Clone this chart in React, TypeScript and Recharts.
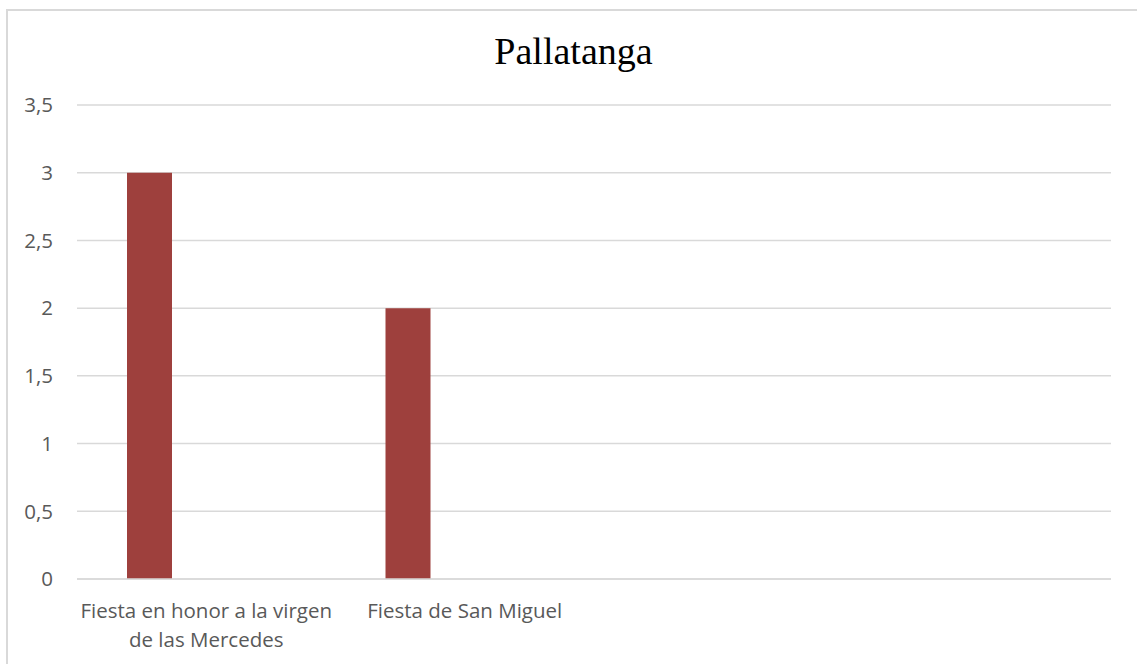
import { Bar, BarChart, CartesianGrid, XAxis, YAxis } from "recharts";

const title = "Pallatanga";
const categories = ["Fiesta en honor a la virgen de las Mercedes", "Fiesta de San Miguel", "", ""];
const serie1 = [3, 2, null, null];
const serie2 = [null, null, null, null];
const serie3 = [null, null, null, null];
const yTicks = [0, 0.5, 1, 1.5, 2, 2.5, 3, 3.5];

const data = categories.map((name, i) => ({
  name,
  serie1: serie1[i],
  serie2: serie2[i],
  serie3: serie3[i],
}));

const FONT = "'Open Sans', sans-serif";
const LABEL = "#595959";
const GRID = "#d9d9d9";
const BAR = "#9E403D";

const fmt = (v: number) => String(v).replace(".", ",");

// word wrap by character count, labels are short enough for this
function wrap(label: string, maxChars = 28) {
  const lines: string[] = [];
  let cur = "";
  for (const w of label.split(" ")) {
    const next = cur ? cur + " " + w : w;
    if (next.length > maxChars && cur) {
      lines.push(cur);
      cur = w;
    } else {
      cur = next;
    }
  }
  if (cur) lines.push(cur);
  return lines;
}

function CategoryTick(props: any) {
  const { x, y, payload } = props;
  const lines = wrap(String(payload.value ?? ""));
  return (
    <text x={x} y={y + 39} textAnchor="middle" fill={LABEL} fontFamily={FONT} fontSize={20.5}>
      {lines.map((line, i) => (
        <tspan key={i} x={x} dy={i === 0 ? 0 : 29}>
          {line}
        </tspan>
      ))}
    </text>
  );
}

export default function App() {
  return (
    <div>
      <div
        style={{
          position: "absolute",
          left: 6,
          top: 9,
          width: 1135,
          height: 670,
          border: `2px solid ${GRID}`,
          boxSizing: "border-box",
        }}
      />
      <div
        style={{
          position: "absolute",
          left: 6,
          top: 32,
          width: 1135,
          textAlign: "center",
          fontFamily: "'Liberation Serif', serif",
          fontSize: 38,
          lineHeight: "38px",
          color: "#000",
        }}
      >
        {title}
      </div>
      <div style={{ position: "absolute", left: 0, top: 0 }}>
        <BarChart
          width={1137}
          height={664}
          data={data}
          margin={{ top: 105, right: 26, bottom: 0, left: 0 }}
          barGap={12}
        >
          <CartesianGrid vertical={false} stroke={GRID} strokeWidth={1.5} />
          <XAxis
            dataKey="name"
            height={85}
            axisLine={{ stroke: GRID, strokeWidth: 1.5 }}
            tickLine={false}
            tickSize={0}
            tickMargin={0}
            interval={0}
            tick={<CategoryTick />}
          />
          <YAxis
            width={77}
            domain={[0, 3.5]}
            ticks={yTicks}
            axisLine={false}
            tickLine={false}
            tickSize={0}
            tickMargin={24}
            tickFormatter={fmt}
            tick={{ fill: LABEL, fontFamily: FONT, fontSize: 20.5 }}
          />
          <Bar dataKey="serie1" fill={BAR} barSize={45} isAnimationActive={false} />
          <Bar dataKey="serie2" fill={BAR} barSize={45} isAnimationActive={false} />
          <Bar dataKey="serie3" fill={BAR} barSize={45} isAnimationActive={false} />
        </BarChart>
      </div>
    </div>
  );
}
